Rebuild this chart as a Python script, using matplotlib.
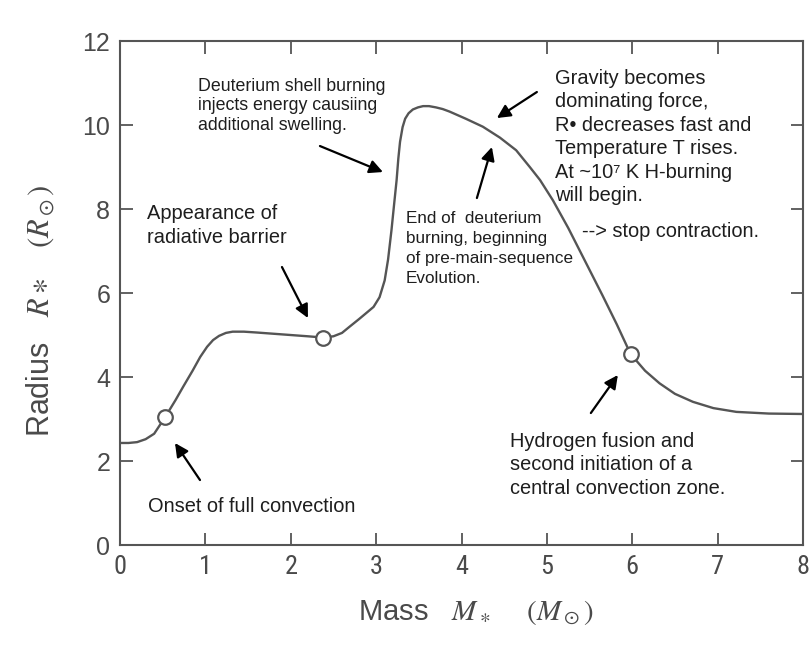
import numpy as np
import matplotlib.pyplot as plt

plt.rcParams['font.family'] = ['Liberation Sans', 'DejaVu Sans']
plt.rcParams['mathtext.fontset'] = 'stix'

# radius of a protostar along the mass axis (solar units)
mass = [0.0, 0.1, 0.2, 0.3, 0.4, 0.53, 0.65, 0.74, 0.85, 0.94, 1.02, 1.09,
        1.16, 1.24, 1.32, 1.45, 1.6, 1.8, 2.0, 2.2, 2.38, 2.5, 2.6, 2.69,
        2.8, 2.9, 2.97, 3.04, 3.10, 3.14, 3.18, 3.21, 3.24, 3.26, 3.28,
        3.31, 3.34, 3.38, 3.43, 3.49, 3.55, 3.62, 3.7, 3.78, 3.86, 4.05,
        4.25, 4.45, 4.64, 4.8, 4.92, 5.07, 5.25, 5.46, 5.65, 5.82, 5.98,
        6.15, 6.32, 6.5, 6.71, 6.95, 7.22, 7.6, 8.0]
radius = [2.43, 2.43, 2.45, 2.52, 2.65, 3.05, 3.45, 3.77, 4.15, 4.48, 4.72,
          4.88, 4.98, 5.05, 5.08, 5.08, 5.06, 5.03, 5.0, 4.97, 4.94, 4.97,
          5.05, 5.2, 5.38, 5.55, 5.67, 5.9, 6.3, 6.8, 7.5, 8.1, 8.69, 9.2,
          9.6, 9.95, 10.15, 10.28, 10.37, 10.42, 10.45, 10.45, 10.42,
          10.38, 10.32, 10.15, 9.96, 9.7, 9.4, 9.0, 8.69, 8.21, 7.55, 6.71,
          5.95, 5.25, 4.55, 4.15, 3.85, 3.6, 3.41, 3.26, 3.17, 3.13, 3.12]

# marked transition points
mark_mass = [0.53, 2.38, 5.98]
mark_radius = [3.05, 4.94, 4.55]

xticks = list(range(0, 9))
yticks = list(range(0, 13, 2))

grey = '#555555'
txt = '#1e1e1e'
narrow = ['Liberation Sans Narrow', 'Roboto Condensed', 'Liberation Sans']

fig = plt.figure(figsize=(8.12, 6.46), dpi=100)
ax = fig.add_axes([0.1478, 0.1563, 0.8411, 0.7802])

ax.plot(mass, radius, color=grey, lw=1.7, zorder=2)
ax.plot(mark_mass, mark_radius, 'o', ms=10.5, mfc='white', mec=grey,
        mew=1.6, zorder=3)

ax.set_xlim(0, 8)
ax.set_ylim(0, 12)
ax.set_xticks(xticks)
ax.set_yticks(yticks)
ax.tick_params(direction='in', top=True, right=True, length=9, width=1.3,
               color=grey, labelcolor='#4a4a4a')
ax.tick_params(axis='y', labelsize=18, pad=7)
ax.tick_params(axis='x', labelsize=19, pad=7)
for lab in ax.get_xticklabels():
    lab.set_family(narrow)
for s in ax.spines.values():
    s.set_color(grey)
    s.set_linewidth(1.5)

ax.set_xlabel(r'Mass   $M_\ast$    $(M_\odot)$', fontsize=21, color='#4a4a4a')
ax.set_ylabel(r'Radius   $R\ast$   $(R_\odot)$', fontsize=22, color='#4a4a4a')
ax.xaxis.set_label_coords(0.52, -0.105)
ax.yaxis.set_label_coords(-0.093, 0.465)


def px(x, y):
    # figure pixel -> data coords
    return (x - 120) / 85.4, (545 - y) / 42.0


def note(x, y, s, size=14.4, ls=1.35):
    # y is the middle of the first line
    top = y - 0.42 * size * 100 / 72
    ax.text(*px(x, top), s, fontsize=size, color=txt, va='top',
            ha='left', linespacing=ls)


def arrow(tail, tip):
    ax.annotate('', xy=px(*tip), xytext=px(*tail),
                arrowprops=dict(arrowstyle='-|>', color='black', lw=1.6,
                                mutation_scale=20, shrinkA=0, shrinkB=0))


note(148, 505, 'Onset of full convection')
arrow((200, 480), (175, 443))

note(147, 212, 'Appearance of\nradiative barrier', ls=1.37)
arrow((282, 267), (308, 318))

note(198, 85, 'Deuterium shell burning\ninjects energy causiing\nadditional swelling.',
     size=12.8, ls=1.22)
arrow((320, 146), (383, 172))

note(406, 218, 'End of  deuterium\nburning, beginning\nof pre-main-sequence\nEvolution.',
     size=12.3, ls=1.42)
arrow((477, 198), (492, 147))

note(555, 77, 'Gravity becomes\ndominating force,\nR\u2022 decreases fast and\n'
     'Temperature T rises.\nAt ~10\u2077 K H-burning\nwill begin.', ls=1.3)
note(582, 230, '--> stop contraction.')
arrow((537, 92), (497, 118))

note(510, 440, 'Hydrogen fusion and\nsecond initiation of a\ncentral convection zone.',
     ls=1.3)
arrow((591, 413), (618, 375))

fig.savefig('out.png', dpi=100)
